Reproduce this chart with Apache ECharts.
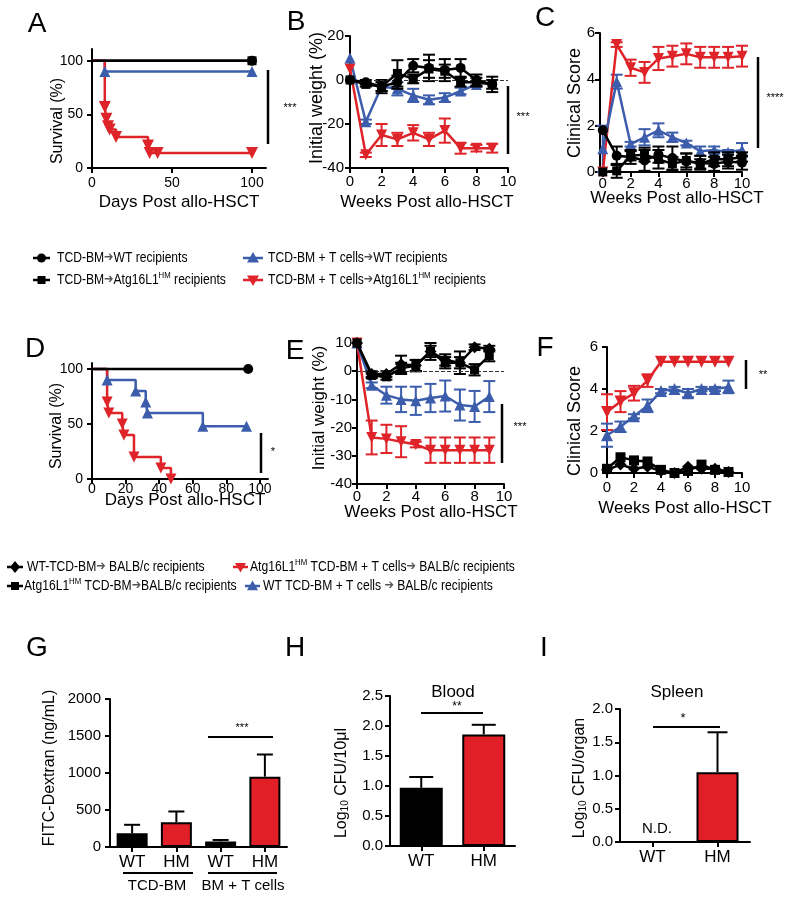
<!DOCTYPE html>
<html><head><meta charset="utf-8">
<script src="https://cdn.jsdelivr.net/npm/echarts@6/dist/echarts.min.js"></script>
<style>html,body{margin:0;padding:0;background:#fff}#c{width:800px;height:902px}</style>
</head><body><div id="c"></div>
<script>
// ================= DATA =================
// Panel A – survival (days, %)
const A_days_ticks = [0, 50, 100];
const A_surv_ticks = [0, 50, 100];
const A_tcd_wt = [[0,100],[100,100]];
const A_tcd_hm = [[0,100],[100,100]];
const A_t_wt = [[0,100],[8,90],[100,90]];
const A_t_hm = [[0,100],[8,57],[9,46],[10,39],[11,36],[15,29],[35,21],[36,14],[41,14],[100,14]];

// Panel B – initial weight (%)
const B_week_ticks = [0,2,4,6,8,10];
const B_weight_ticks = [-40,-20,0,20];
const B_weeks = [0,1,2,3,4,5,6,7,8,9];
const B_tcd_wt = [0,-1,-3,-1,6.5,5.5,4.5,5.5,0,-2];
const B_tcd_wt_err = [0,1,3,3,3,6,5,4,2.5,3.5];
const B_tcd_hm = [0,-2,-3,3,0.5,5,4,-1,-1,-2];
const B_tcd_hm_err = [0,1,2,6,2,4,3,2,2,2];
const B_t_wt_weeks = [0,1,2,3,4,5,6,7,8];
const B_t_wt = [10,-19,-3,-4,-7,-9,-8,-5,-2];
const B_t_wt_err = [0,1,2,3,3,2,2,1.5,1];
const B_t_hm = [5,-34,-25,-27,-24,-27,-23,-31,-31,-31];
const B_t_hm_err = [0,1,5,3,3.5,3,5.5,2.5,1.5,2];

// Panel C – clinical score
const C_week_ticks = [0,2,4,6,8,10];
const C_score_ticks = [0,2,4,6];
const C_weeks = [0,1,2,3,4,5,6,7,8,9,10];
const C_tcd_wt = [1.8,0.7,0.65,0.5,0.75,0.6,0.45,0.4,0.35,0.45,0.4];
const C_tcd_wt_err = [0,0.4,0.3,0.45,0.35,0.5,0.35,0.3,0.3,0.3,0.3];
const C_tcd_hm = [0,0.05,0.7,0.75,0.55,0.35,0.5,0.35,0.55,0.55,0.65];
const C_tcd_hm_err = [0,0.3,0.2,0.3,0.4,0.3,0.3,0.2,0.3,0.3,0.2];
const C_t_wt = [1.0,3.9,1.2,1.5,1.8,1.5,1.25,0.9,0.95,0.85,0.95];
const C_t_wt_err = [1.0,0.3,0.1,0.35,0.3,0.2,0.1,0.2,0.15,0.1,0.3];
const C_t_hm = [0,5.5,4.5,4.3,4.9,5.0,5.1,4.95,4.95,4.95,5.0];
const C_t_hm_err = [0,0.1,0.35,0.45,0.5,0.45,0.45,0.45,0.45,0.45,0.45];

// Panel D – survival
const D_days_ticks = [0,20,40,60,80,100];
const D_surv_ticks = [0,50,100];
const D_wt_tcd = [[0,100],[93,100]];
const D_t_wt = [[0,100],[9,90],[26,80],[32,70],[33,60],[66,48],[92,48]];
const D_t_hm = [[0,100],[9,70],[10,60],[18,50],[19,40],[25,20],[41,10],[47,0]];

// Panel E – initial weight
const E_week_ticks = [0,2,4,6,8,10];
const E_weight_ticks = [-40,-30,-20,-10,0,10];
const E_weeks = [0,1,2,3,4,5,6,7,8,9];
const E_wt_tcd = [10,-1,-1,2.5,2,7,4,3,8.5,8];
const E_wt_tcd_err = [0,1,1,3,2,3,2,4,1,1];
const E_hm_tcd = [10,-1.5,-2,1,2,7,3,3,0.5,5.5];
const E_hm_tcd_err = [0,1,1,2,2,2,2,2,2,2];
const E_wt_t = [10,-5,-8.5,-10,-10.5,-9.5,-8.8,-12,-12.5,-9];
const E_wt_t_err = [0,1,3,4.5,5,5,5.5,5.5,5.5,5.5];
const E_hm_t = [10,-23.5,-24,-25,-26,-28,-28,-28,-28,-28];
const E_hm_t_err = [0,6,5,5.5,1,4.5,4.5,4.5,4.5,4.5];

// Panel F – clinical score
const F_week_ticks = [0,2,4,6,8,10];
const F_score_ticks = [0,2,4,6];
const F_weeks = [0,1,2,3,4,5,6,7,8,9];
const F_wt_tcd = [0.15,0.4,0.2,0.3,0.1,0,0.3,0.2,0.2,0.05];
const F_hm_tcd = [0.2,0.75,0.6,0.55,0.15,0,0.1,0.4,0.15,0.05];
const F_wt_t = [1.8,2.2,2.7,3.2,3.9,4.0,3.8,4.0,4.0,4.1];
const F_wt_t_err = [0.55,0.25,0.1,0.3,0.1,0.1,0.2,0.1,0.1,0.3];
const F_hm_t = [2.9,3.4,3.8,4.4,5.3,5.3,5.3,5.3,5.3,5.3];
const F_hm_t_err = [0.85,0.5,0.35,0.3,0,0,0,0,0,0];

// Panel G – FITC-Dextran
const G_labels = ['WT','HM','WT','HM'];
const G_ticks = [0,500,1000,1500,2000];
const G_values = [185,335,75,950];
const G_err = [115,145,20,300];

// Panel H – Blood
const H_labels = ['WT','HM'];
const H_ticks = [0,0.5,1.0,1.5,2.0,2.5];
const H_values = [0.97,1.86];
const H_err = [0.18,0.16];

// Panel I – Spleen
const I_labels = ['WT','HM'];
const I_ticks = [0,0.5,1.0,1.5,2.0];
const I_values = [null,1.05];
const I_err = [0,0.6];

// ================= STYLE / HELPERS =================
const FF = '"Liberation Sans", Arial, Helvetica, sans-serif';
const RED = '#de2329', BLUE = '#3c5dab', BLK = '#000', BAR_RED = '#e01f26';

const grids = [
  {left:92, top:49, width:174, height:119},   // A
  {left:350, top:36, width:158, height:132},  // B
  {left:600, top:33, width:142, height:139},  // C
  {left:92, top:363, width:176, height:116},  // D
  {left:357, top:343, width:147, height:141}, // E
  {left:607, top:347, width:135, height:126}, // F
  {left:110, top:699, width:177, height:148}, // G
  {left:390, top:696, width:125, height:150}, // H
  {left:620, top:709, width:130, height:133}  // I
];

function valAxis(gi, min, max, ticks, fs, margin, fmt) {
  const lab = {color:'#000', fontSize:fs, fontFamily:FF, margin:margin, customValues:ticks,
    formatter: fmt || (v => String(v))};
  return {type:'value', gridIndex:gi, min:min, max:max,
    axisLine:{show:true, onZero:false, lineStyle:{color:'#000', width:2}},
    axisTick:{show:true, length:5, lineStyle:{color:'#000', width:2}, customValues:ticks},
    axisLabel:lab, splitLine:{show:false}};
}
function catAxis(gi, cats, fs, margin) {
  return {type:'category', gridIndex:gi, data:cats,
    axisLine:{show:true, lineStyle:{color:'#000', width:2}},
    axisTick:{show:true, alignWithLabel:true, length:5, lineStyle:{color:'#000', width:2}},
    axisLabel:{color:'#000', fontSize:fs, fontFamily:FF, margin:margin}};
}
function pairs(xs, ys) { return xs.map((x,i)=>[x, ys[i]]); }
function triples(xs, ys, es) { return xs.map((x,i)=>[x, ys[i], es[i]]); }

function lineS(gi, data, color, sym, size, rot, step, z) {
  return {type:'line', xAxisIndex:gi, yAxisIndex:gi, data:data, symbol:sym, symbolSize:size,
    symbolRotate:rot||0, step:step||false, showAllSymbol:true,
    lineStyle:{color:color, width:2.5}, itemStyle:{color:color}, z:z||3, silent:true};
}
function kmData(pts) { return pts.map((p,i)=> i===0 ? {value:p, symbol:'none'} : p); }

function errS(gi, pts, color, cap, upOnly, lw, z) {
  return {type:'custom', xAxisIndex:gi, yAxisIndex:gi, data:pts, clip:false, silent:true, z:z||2,
    renderItem:function(p, api){
      const x=api.value(0), y=api.value(1), e=api.value(2);
      if (!e || isNaN(y)) return null;
      const c=api.coord([x,y]), t=api.coord([x,y+e]), b=upOnly ? c : api.coord([x,y-e]);
      const st={stroke:color, lineWidth:lw||2};
      const ch=[{type:'line', shape:{x1:t[0],y1:t[1],x2:b[0],y2:b[1]}, style:st},
                {type:'line', shape:{x1:t[0]-cap,y1:t[1],x2:t[0]+cap,y2:t[1]}, style:st}];
      if (!upOnly) ch.push({type:'line', shape:{x1:b[0]-cap,y1:b[1],x2:b[0]+cap,y2:b[1]}, style:st});
      return {type:'group', children:ch};
    }};
}
function barS(gi, vals, colors, w) {
  return {type:'bar', xAxisIndex:gi, yAxisIndex:gi, barWidth:w, silent:true, z:2,
    data: vals.map((v,i)=> v==null ? '-' : {value:v, itemStyle:{color:colors[i], borderColor:'#000', borderWidth:2}})};
}

// ---------- graphic helpers ----------
const G = [];
function txt(x, y, s, fs, opt) {
  opt = opt || {};
  G.push({type:'text', x:x, y:y, rotation:opt.rot||0, scaleX:opt.sx||1, silent:true,
    style:{text:s, fontSize:fs, fontFamily:FF, fill:opt.color||'#000',
      align:opt.align||'center', verticalAlign:'middle', textAlign:opt.align||'center', textVerticalAlign:'middle',
      rich:opt.rich}});
}
function ln(x1,y1,x2,y2,w,color,dash) {
  G.push({type:'line', silent:true, shape:{x1,y1,x2,y2}, style:{stroke:color||'#000', lineWidth:w||2.5, lineDash:dash}});
}
function sym(kind, cx, cy, s, color) {
  const h=s/2;
  if (kind==='circle') G.push({type:'circle', silent:true, shape:{cx,cy,r:h}, style:{fill:color}});
  else if (kind==='rect') G.push({type:'rect', silent:true, shape:{x:cx-h,y:cy-h,width:s,height:s}, style:{fill:color}});
  else if (kind==='diamond') G.push({type:'polygon', silent:true, shape:{points:[[cx,cy-h-1],[cx+h,cy],[cx,cy+h+1],[cx-h,cy]]}, style:{fill:color}});
  else if (kind==='tri') G.push({type:'polygon', silent:true, shape:{points:[[cx,cy-h],[cx+h,cy+h*0.75],[cx-h,cy+h*0.75]]}, style:{fill:color}});
  else if (kind==='itri') G.push({type:'polygon', silent:true, shape:{points:[[cx,cy+h],[cx+h,cy-h*0.75],[cx-h,cy-h*0.75]]}, style:{fill:color}});
}
const legRich = {
  t:{fontSize:14, fontFamily:FF, fill:'#000', color:'#000'},
  a:{fontSize:13, fontFamily:'"DejaVu Sans", sans-serif', fill:'#555', color:'#555'},
  s:{fontSize:9, fontFamily:FF, fill:'#000', color:'#000', verticalAlign:'top', padding:[0,0,8,0]}
};
function legItem(x1, x2, y, color, kind, s, tx, text) {
  ln(x1, y, x2, y, 2.5, color);
  sym(kind, (x1+x2)/2, y, s, color);
  txt(tx, y, text, 14, {align:'left', sx:0.865, rich:legRich});
}
const ttlRich = {
  t:{fontSize:16, fontFamily:FF, fill:'#000', color:'#000'},
  b:{fontSize:10, fontFamily:FF, fill:'#000', color:'#000', verticalAlign:'bottom', padding:[6,0,0,0]}
};

// ---------- panel letters ----------
[['A',37,24],['B',296,22],['C',545,18],['D',35,349],['E',295,351],['F',545,348],['G',37,648],['H',295,648],['I',544,648]]
  .forEach(l=>txt(l[1], l[2], l[0], 28));

// ---------- axis titles ----------
txt(179, 202, 'Days Post allo-HSCT', 17);
txt(58, 121, 'Survival (%)', 16, {rot:Math.PI/2});
txt(427, 202, 'Weeks Post allo-HSCT', 17);
txt(317, 98, 'Initial weight (%)', 18, {rot:Math.PI/2});
txt(677, 198, 'Weeks Post allo-HSCT', 17);
txt(575, 103, 'Clinical Score', 18, {rot:Math.PI/2});
txt(185, 500, 'Days Post allo-HSCT', 17);
txt(57, 426, 'Survival (%)', 16, {rot:Math.PI/2});
txt(431, 512, 'Weeks Post allo-HSCT', 17);
txt(319, 408, 'Initial weight (%)', 17, {rot:Math.PI/2});
txt(685, 508, 'Weeks Post allo-HSCT', 17);
txt(575, 421, 'Clinical Score', 18, {rot:Math.PI/2});
txt(50, 768, 'FITC-Dextran (ng/mL)', 16, {rot:Math.PI/2});
txt(342, 783, '{t|Log}{b|10}{t| CFU/10μl}', 16, {rot:Math.PI/2, rich:ttlRich});
txt(580, 778, '{t|Log}{b|10}{t| CFU/organ}', 16, {rot:Math.PI/2, rich:ttlRich});
txt(453, 692, 'Blood', 17);
txt(677, 692, 'Spleen', 17);
txt(657, 829, 'N.D.', 15);

// ---------- G group labels ----------
ln(123, 873, 193, 873, 2);
ln(208, 873, 277, 873, 2);
txt(157, 886, 'TCD-BM', 15);
txt(243, 886, 'BM + T cells', 15);

// ---------- significance ----------
ln(268, 70, 268, 144, 2.5); txt(290, 108, '***', 11);
ln(508, 86, 508, 154, 2.5); txt(523, 117, '***', 11);
ln(758, 57, 758, 148, 2.5); txt(775, 98, '****', 11);
ln(261, 433, 261, 473, 2.5); txt(273, 452, '*', 11);
ln(502, 404, 502, 463, 2.5); txt(520, 427, '***', 11);
ln(746, 360, 746, 389, 2.5); txt(763, 375, '**', 11);
ln(208, 737, 273, 737, 2); txt(242, 728, '***', 11);
ln(421, 713, 483, 713, 2); txt(457, 707, '**', 12);
ln(653, 727, 720, 727, 2); txt(683, 718, '*', 13);

// ---------- legends ----------
legItem(33, 50, 258, BLK, 'circle', 9, 57, '{t|TCD-BM}{a|➔}{t|WT recipients}');
legItem(33, 50, 280, BLK, 'rect', 8, 57, '{t|TCD-BM}{a|➔}{t|Atg16L1}{s|HM}{t| recipients}');
legItem(243, 263, 258, BLUE, 'tri', 12, 268, '{t|TCD-BM + T cells}{a|➔}{t|WT recipients}');
legItem(243, 263, 280, RED, 'itri', 12, 268, '{t|TCD-BM + T cells}{a|➔}{t|Atg16L1}{s|HM}{t| recipients}');
legItem(7, 23, 567, BLK, 'diamond', 10, 27, '{t|WT-TCD-BM}{a|➔}{t| BALB/c recipients}');
legItem(7, 23, 586, BLK, 'rect', 8, 24, '{t|Atg16L1}{s|HM}{t| TCD-BM}{a|➔}{t|BALB/c recipients}');
legItem(233, 248, 567, RED, 'itri', 11, 250, '{t|Atg16L1}{s|HM}{t| TCD-BM + T cells}{a|➔}{t| BALB/c recipients}');
legItem(245, 260, 586, BLUE, 'tri', 11, 263, '{t|WT TCD-BM + T cells }{a|➔}{t| BALB/c recipients}');

// ================= OPTION =================
const xAxes = [
  valAxis(0, 0, 108.75, A_days_ticks, 14, 8),
  valAxis(1, 0, 10, B_week_ticks, 15, 6),
  valAxis(2, -0.2, 10, C_week_ticks, 15, 4),
  valAxis(3, 0, 104.8, D_days_ticks, 14, 3),
  valAxis(4, 0, 10, E_week_ticks, 15, 5),
  valAxis(5, 0, 10, F_week_ticks, 15, 7),
  catAxis(6, G_labels, 17, 7),
  catAxis(7, H_labels, 17, 7),
  catAxis(8, I_labels, 17, 7)
];
const yAxes = [
  valAxis(0, 0, 111, A_surv_ticks, 14, 9),
  valAxis(1, -40, 20, B_weight_ticks, 15, 6),
  valAxis(2, 0, 6, C_score_ticks, 15, 5),
  valAxis(3, 0, 105.5, D_surv_ticks, 14, 9),
  valAxis(4, -40, 10, E_weight_ticks, 15, 5),
  valAxis(5, 0, 6, F_score_ticks, 15, 9),
  valAxis(6, 0, 2000, G_ticks, 15, 9),
  valAxis(7, 0, 2.5, H_ticks, 15, 7, v=>v.toFixed(1)),
  valAxis(8, 0, 2.0, I_ticks, 15, 7, v=>v.toFixed(1))
];

const zeroLine = {silent:true, symbol:'none', label:{show:false},
  lineStyle:{type:'dashed', color:'#333', width:1}, data:[{yAxis:0}]};

const series = [
  // A
  lineS(0, kmData(A_tcd_hm), BLK, 'rect', 9, 0, 'end', 3),
  lineS(0, kmData(A_tcd_wt), BLK, 'circle', 10, 0, 'end', 4),
  lineS(0, kmData(A_t_wt), BLUE, 'triangle', 11, 0, 'end', 3),
  lineS(0, kmData(A_t_hm), RED, 'triangle', 12, 180, 'end', 3),
  // B
  errS(1, triples(B_weeks, B_t_hm, B_t_hm_err), RED, 6),
  lineS(1, pairs(B_weeks, B_t_hm), RED, 'triangle', 11, 180),
  errS(1, triples(B_t_wt_weeks, B_t_wt, B_t_wt_err), BLUE, 6),
  Object.assign(lineS(1, pairs(B_t_wt_weeks, B_t_wt), BLUE, 'triangle', 11), {markLine:zeroLine}),
  errS(1, triples(B_weeks, B_tcd_hm, B_tcd_hm_err), BLK, 6, false, 2, 4),
  lineS(1, pairs(B_weeks, B_tcd_hm), BLK, 'rect', 9, 0, false, 5),
  errS(1, triples(B_weeks, B_tcd_wt, B_tcd_wt_err), BLK, 6, false, 2, 4),
  lineS(1, pairs(B_weeks, B_tcd_wt), BLK, 'circle', 10, 0, false, 5),
  // C
  errS(2, triples(C_weeks, C_t_hm, C_t_hm_err), RED, 6),
  lineS(2, pairs(C_weeks, C_t_hm), RED, 'triangle', 11, 180),
  errS(2, triples(C_weeks, C_t_wt, C_t_wt_err), BLUE, 6),
  lineS(2, pairs(C_weeks, C_t_wt), BLUE, 'triangle', 11),
  errS(2, triples(C_weeks, C_tcd_hm, C_tcd_hm_err), BLK, 6, false, 2, 4),
  lineS(2, pairs(C_weeks, C_tcd_hm), BLK, 'rect', 9, 0, false, 5),
  errS(2, triples(C_weeks, C_tcd_wt, C_tcd_wt_err), BLK, 6, false, 2, 4),
  lineS(2, pairs(C_weeks, C_tcd_wt), BLK, 'circle', 10, 0, false, 5),
  // D
  lineS(3, kmData(D_wt_tcd), BLK, 'circle', 10, 0, 'end', 4),
  lineS(3, kmData(D_t_wt), BLUE, 'triangle', 11, 0, 'end', 3),
  lineS(3, kmData(D_t_hm), RED, 'triangle', 11, 180, 'end', 3),
  // E
  errS(4, triples(E_weeks, E_hm_t, E_hm_t_err), RED, 6),
  lineS(4, pairs(E_weeks, E_hm_t), RED, 'triangle', 11, 180),
  errS(4, triples(E_weeks, E_wt_t, E_wt_t_err), BLUE, 6),
  Object.assign(lineS(4, pairs(E_weeks, E_wt_t), BLUE, 'triangle', 11), {markLine:zeroLine}),
  errS(4, triples(E_weeks, E_hm_tcd, E_hm_tcd_err), BLK, 6, false, 2, 4),
  lineS(4, pairs(E_weeks, E_hm_tcd), BLK, 'rect', 9, 0, false, 5),
  errS(4, triples(E_weeks, E_wt_tcd, E_wt_tcd_err), BLK, 6, false, 2, 4),
  lineS(4, pairs(E_weeks, E_wt_tcd), BLK, 'diamond', 12, 0, false, 5),
  // F
  errS(5, triples(F_weeks, F_hm_t, F_hm_t_err), RED, 6),
  lineS(5, pairs(F_weeks, F_hm_t), RED, 'triangle', 12, 180),
  errS(5, triples(F_weeks, F_wt_t, F_wt_t_err), BLUE, 6),
  lineS(5, pairs(F_weeks, F_wt_t), BLUE, 'triangle', 12),
  lineS(5, pairs(F_weeks, F_hm_tcd), BLK, 'rect', 10, 0, false, 5),
  lineS(5, pairs(F_weeks, F_wt_tcd), BLK, 'diamond', 12, 0, false, 5),
  // G
  barS(6, G_values, [BLK, BAR_RED, BLK, BAR_RED], 31),
  errS(6, triples([0,1,2,3], G_values, G_err), BLK, 8, true, 2, 3),
  // H
  barS(7, H_values, [BLK, BAR_RED], 43),
  errS(7, triples([0,1], H_values, H_err), BLK, 12, true, 2, 3),
  // I
  barS(8, I_values, [BLK, BAR_RED], 42),
  errS(8, triples([0,1], I_values, I_err), BLK, 10, true, 2, 3)
];

const chart = echarts.init(document.getElementById('c'), null, {renderer:'canvas'});
chart.setOption({
  backgroundColor:'#fff', animation:false,
  textStyle:{fontFamily:FF},
  grid: grids.map(g=>Object.assign({containLabel:false}, g)),
  xAxis: xAxes, yAxis: yAxes, series: series,
  graphic: {elements: G}
});
</script></body></html>
